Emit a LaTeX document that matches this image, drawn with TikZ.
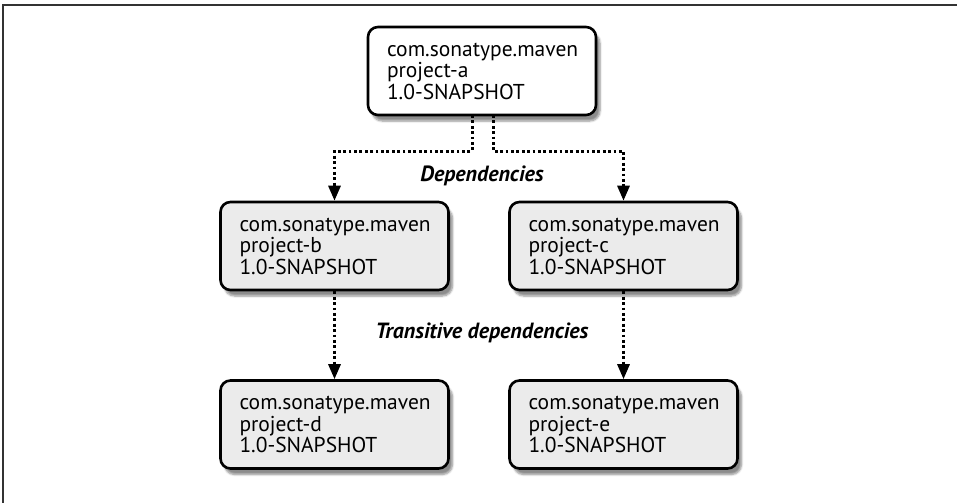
\documentclass[tikz,border=0pt]{standalone}
\usepackage{fontspec}
\setmainfont{PT Sans}
\usetikzlibrary{arrows.meta,shadows.blur}
\definecolor{boxgray}{HTML}{EBEBEB}
\definecolor{framegray}{HTML}{333333}
\tikzset{
  proj/.style={draw=black, line width=2.6pt, rounded corners=10pt,
    minimum height=88pt, text width=190pt, inner xsep=19pt, inner ysep=0pt,
    align=left, font=\fontsize{21.5}{21.5}\selectfont,
    blur shadow={shadow xshift=4pt, shadow yshift=-6pt, shadow blur steps=6, shadow opacity=45}},
  dep/.style={line width=3pt, dash pattern=on 2.8pt off 2.6pt,
    -{Triangle[width=12pt,length=15pt]}},
  lbl/.style={font=\fontsize{22}{24}\selectfont\bfseries\itshape}
}
\begin{document}
\begin{tikzpicture}[x=1pt,y=-1pt]
\useasboundingbox (0,0) rectangle (957,503);
\draw[framegray, line width=2.2pt] (957,5) -- (3,5) -- (3,503);
\node[proj, fill=white] (a) at (482,71) {com.sonatype.maven\\project-a\\1.0-SNAPSHOT};
\node[proj, fill=boxgray] (b) at (334.5,246) {com.sonatype.maven\\project-b\\1.0-SNAPSHOT};
\node[proj, fill=boxgray] (c) at (623.5,246) {com.sonatype.maven\\project-c\\1.0-SNAPSHOT};
\node[proj, fill=boxgray] (d) at (334.5,424.5) {com.sonatype.maven\\project-d\\1.0-SNAPSHOT};
\node[proj, fill=boxgray] (e) at (623.5,424.5) {com.sonatype.maven\\project-e\\1.0-SNAPSHOT};
\coordinate (al) at ([xshift=-10pt,yshift=1.3pt]a.south);
\coordinate (ar) at ([xshift=11pt,yshift=1.3pt]a.south);
\draw[dep] (al) -- ++(0,36) -| (b.north);
\draw[dep] (ar) -- ++(0,36) -| (c.north);
\draw[dep] (b.south) -- (d.north);
\draw[dep] (c.south) -- (e.north);
\node[lbl] (l1) at (482,176) {Dependencies};
\node[lbl] (l2) at (482,333) {Transitive dependencies};
\end{tikzpicture}
\end{document}
